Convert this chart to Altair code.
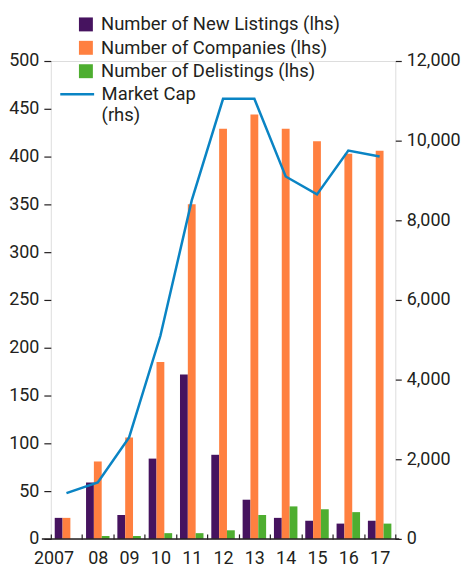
import altair as alt
import pandas as pd

years = ["2007", "08", "09", "10", "11", "12", "13", "14", "15", "16", "17"]
series = ["Number of New Listings (lhs)", "Number of Companies (lhs)", "Number of Delistings (lhs)"]
new_listings = [22, 59, 25, 84, 172, 88, 41, 22, 19, 16, 19]
companies = [22, 81, 106, 185, 350, 429, 444, 429, 416, 403, 406]
delistings = [0, 3, 3, 6, 6, 9, 25, 34, 31, 28, 16]
market_cap = [1150, 1420, 2550, 5100, 8500, 11050, 11050, 9100, 8650, 9750, 9600]
line_name = "Market Cap (rhs)"
left_ticks = list(range(0, 501, 50))
right_ticks = list(range(0, 12001, 2000))

bar_colors = ["#46135F", "#FF8040", "#4EAE30"]
line_color = "#0A84C4"
text_color = "#231F20"
FONT = "Roboto"
AX = 18
LG = 18.5

rows = []
for s, vals in zip(series, [new_listings, companies, delistings]):
    for y, v in zip(years, vals):
        rows.append({"year": y, "series": s, "value": v})
df_bars = pd.DataFrame(rows)
df_line = pd.DataFrame({"year": years, "cap": market_cap, "name": line_name})
df_base = pd.DataFrame({"v": [0]})

x_enc = alt.X(
    "year:N", sort=years,
    scale=alt.Scale(paddingInner=0, paddingOuter=0),
    axis=alt.Axis(title=None, labelAngle=0, tickBand="extent", domain=False,
                  tickSize=5, tickWidth=1.2, tickColor=text_color, offset=-5,
                  labelPadding=11, labelFont=FONT, labelFontSize=AX, labelColor=text_color,
                  labelOffset={"condition": {"test": "datum.value == '2007'", "value": -13}, "value": 0}),
)

bars = alt.Chart(df_bars).mark_bar().encode(
    x=x_enc,
    xOffset=alt.XOffset("series:N", sort=series,
                        scale=alt.Scale(domain=series, paddingInner=0, paddingOuter=0.5)),
    y=alt.Y("value:Q", scale=alt.Scale(domain=[0, 500], nice=False),
            axis=alt.Axis(title=None, values=left_ticks, domain=False, grid=False,
                          tickSize=7, tickWidth=1.2, tickColor=text_color, labelPadding=5,
                          labelFont=FONT, labelFontSize=AX, labelColor=text_color)),
    color=alt.Color("series:N", sort=series,
                    scale=alt.Scale(domain=series, range=bar_colors),
                    legend=alt.Legend(title=None, orient="none", legendX=26, legendY=-46,
                                      symbolType="square", symbolSize=196, symbolStrokeWidth=0,
                                      labelFont=FONT, labelFontSize=LG, labelColor=text_color,
                                      labelOffset=6, rowPadding=4.5, labelLimit=400)),
)

base = alt.Chart(df_base).mark_rule(color=text_color, strokeWidth=1.5).encode(
    y=alt.Y("v:Q"),
    x=alt.value(-9),
    x2=alt.value(350),
)

line = alt.Chart(df_line).mark_line(strokeWidth=2.5).encode(
    x=alt.X("year:N", sort=years),
    y=alt.Y("cap:Q", scale=alt.Scale(domain=[0, 12000], nice=False),
            axis=alt.Axis(title=None, orient="right", values=right_ticks, format=",.0f",
                          domain=False, grid=False, tickSize=6, tickWidth=1.2,
                          tickColor=text_color, labelPadding=5,
                          labelFont=FONT, labelFontSize=AX, labelColor=text_color)),
    stroke=alt.Stroke("name:N", scale=alt.Scale(domain=[line_name], range=[line_color]),
                      legend=alt.Legend(title=None, orient="none", legendX=8, legendY=15,
                                        symbolType="stroke", symbolSize=1156,
                                        symbolStrokeWidth=2.5,
                                        labelFont=FONT, labelFontSize=LG, labelColor=text_color,
                                        labelOffset=6, labelLimit=400,
                                        labelExpr="['Market Cap', '(rhs)']")),
)

chart = alt.layer(alt.layer(bars, base), line).resolve_scale(
    y="independent", color="independent", stroke="independent"
).properties(
    width=346, height=480,
    padding={"left": 0, "right": 0, "top": 6, "bottom": 0},
).configure_view(stroke=None).configure(font=FONT)

chart.save("out.html", embed_options={"renderer": "svg", "actions": False})
